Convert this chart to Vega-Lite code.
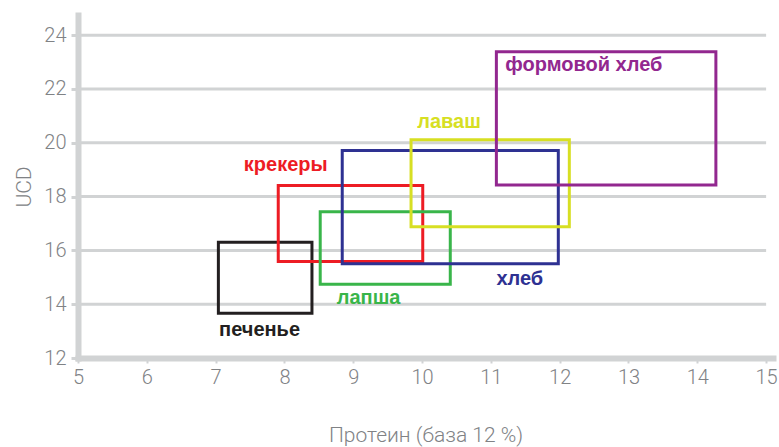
{
  "$schema": "https://vega.github.io/schema/vega-lite/v6.json",
  "width": 695,
  "height": 343,
  "autosize": {"type": "none"},
  "padding": {"left": 78, "top": 15, "right": 6, "bottom": 89},
  "config": {"view": {"stroke": null}, "font": "Roboto"},
  "layer": [
    {
      "data": {"values": [{"g": 14}, {"g": 16}, {"g": 18}, {"g": 20}, {"g": 22}, {"g": 24}]},
      "mark": {"type": "rule", "color": "#d1d3d4", "strokeWidth": 3},
      "encoding": {
        "y": {"field": "g", "type": "quantitative", "scale": {"domain": [12, 24.75], "nice": false}},
        "x": {"datum": 5, "type": "quantitative", "scale": {"domain": [5, 15.1], "nice": false}},
        "x2": {"datum": 15}
      }
    },
    {
      "data": {"values": [
        {"name": "печенье", "x1": 7.04, "x2": 8.4, "y1": 13.66, "y2": 16.3, "lx": 7.05, "ly": 12.81},
        {"name": "крекеры", "x1": 7.91, "x2": 10.01, "y1": 15.59, "y2": 18.41, "lx": 7.41, "ly": 18.94},
        {"name": "лапша", "x1": 8.52, "x2": 10.41, "y1": 14.74, "y2": 17.44, "lx": 8.76, "ly": 14.01},
        {"name": "хлеб", "x1": 8.84, "x2": 11.98, "y1": 15.5, "y2": 19.71, "lx": 11.08, "ly": 14.71},
        {"name": "лаваш", "x1": 9.84, "x2": 12.14, "y1": 16.88, "y2": 20.11, "lx": 9.93, "ly": 20.54},
        {"name": "формовой хлеб", "x1": 11.08, "x2": 14.27, "y1": 18.43, "y2": 23.38, "lx": 11.21, "ly": 22.66}
      ]},
      "layer": [
        {
          "mark": {"type": "rect", "filled": false, "strokeWidth": 3},
          "encoding": {
            "x": {"field": "x1", "type": "quantitative",
              "axis": {"values": [5, 6, 7, 8, 9, 10, 11, 12, 13, 14, 15], "format": "d", "grid": false, "domainColor": "#d1d3d4", "domainWidth": 6, "domainCap": "square",
                "tickColor": "#d1d3d4", "tickWidth": 2, "tickSize": 5, "labelFontSize": 20, "labelColor": "#808285", "labelFont": "Roboto", "labelFontWeight": 300,
                "labelPadding": 4, "labelFlush": false, "labelOverlap": false, "title": "Протеин (база 12 %)", "titleFontSize": 21, "titleFont": "Roboto", "titleFontWeight": 300, "titleColor": "#808285", "titlePadding": 37}},
            "x2": {"field": "x2"},
            "y": {"field": "y1", "type": "quantitative",
              "axis": {"values": [12, 14, 16, 18, 20, 22, 24], "format": "d", "grid": false, "domainColor": "#d1d3d4", "domainWidth": 6, "domainCap": "square",
                "tickColor": "#d1d3d4", "tickWidth": 3, "tickSize": 7, "labelFontSize": 20, "labelColor": "#808285", "labelFont": "Roboto", "labelFontWeight": 300,
                "labelPadding": 5, "labelFlush": false, "labelOverlap": false, "title": "UCD", "titleFontSize": 21, "titleFont": "Roboto", "titleFontWeight": 300, "titleColor": "#808285", "titlePadding": 9}},
            "y2": {"field": "y2"},
            "stroke": {"field": "name", "type": "nominal", "legend": null,
              "scale": {"domain": ["печенье", "крекеры", "лапша", "хлеб", "лаваш", "формовой хлеб"], "range": ["#231f20", "#ed1c24", "#39b54a", "#2e3192", "#d7df23", "#92278f"]}}
          }
        },
        {
          "mark": {"type": "text", "align": "left", "baseline": "alphabetic", "font": "Liberation Sans", "fontWeight": "bold", "fontSize": 20},
          "encoding": {
            "x": {"field": "lx", "type": "quantitative"},
            "y": {"field": "ly", "type": "quantitative"},
            "text": {"field": "name"},
            "color": {"field": "name", "type": "nominal", "legend": null,
              "scale": {"domain": ["печенье", "крекеры", "лапша", "хлеб", "лаваш", "формовой хлеб"], "range": ["#231f20", "#ed1c24", "#39b54a", "#2e3192", "#d7df23", "#92278f"]}}
          }
        }
      ]
    }
  ]
}
